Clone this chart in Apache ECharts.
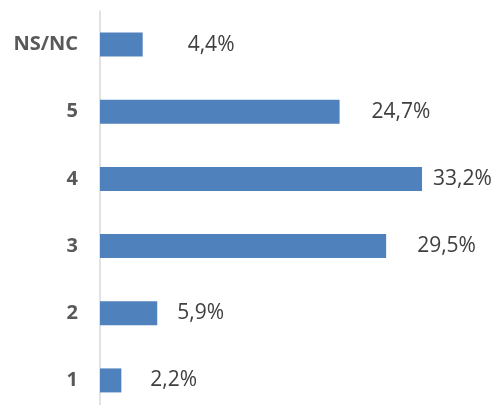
<!DOCTYPE html>
<html>
<head>
<meta charset="utf-8">
<script src="https://cdn.jsdelivr.net/npm/echarts@6/dist/echarts.min.js"></script>
<style>
  html, body { margin: 0; padding: 0; background: #fff; }
  #chart { width: 495px; height: 405px; }
</style>
</head>
<body>
<div id="chart"></div>
<script>
// categories from bottom to top
const categories = ['1', '2', '3', '4', '5', 'NS/NC']
const percentages = [2.2, 5.9, 29.5, 33.2, 24.7, 4.4]
// label gap after each bar (labels were placed by hand in the original)
const labelGaps = [29, 20, 31, 11, 32, 45]

const c = echarts.init(document.getElementById('chart'))
c.setOption({
  animation: false,
  grid: { left: 100, right: 7, top: 11, bottom: -9, outerBoundsMode: 'none' },
  xAxis: {
    type: 'value', min: 0, max: 40, show: false,
  },
  yAxis: {
    type: 'category',
    data: categories,
    axisTick: { show: false },
    axisLine: { show: true, lineStyle: { color: '#d9d9d9', width: 1.5 } },
    axisLabel: {
      margin: 22, color: '#595959', fontSize: 20, fontWeight: 'bold',
      fontFamily: 'Open Sans',
    },
  },
  series: [{
    type: 'bar',
    data: percentages.map((v, i) => ({ value: v, label: { distance: labelGaps[i] } })),
    barWidth: 24,
    itemStyle: { color: '#4f81bd' },
    label: {
      show: true, position: 'right',
      color: '#404040', fontSize: 21, fontFamily: 'Open Sans',
      formatter: p => p.value.toFixed(1).replace('.', ',') + '%',
    },
  }],
})
</script>
</body>
</html>
